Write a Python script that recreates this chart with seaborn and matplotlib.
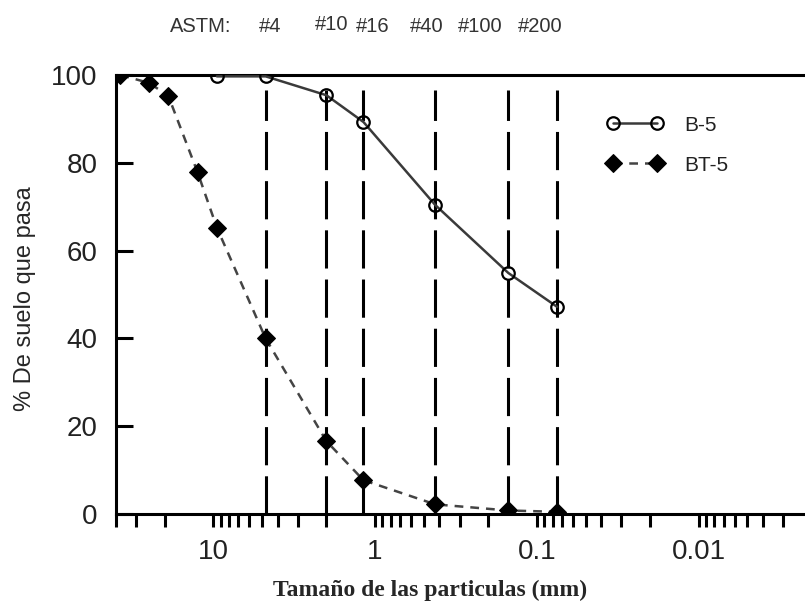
import matplotlib
matplotlib.use("Agg")
import matplotlib.pyplot as plt
import seaborn as sns
import pandas as pd

# Sieve sizes (mm) and percent passing
size_bt5 = [37.5, 25.0, 19.0, 12.5, 9.5, 4.75, 2.0, 1.18, 0.425, 0.15, 0.075]
pass_bt5 = [100, 98.2, 95.3, 77.8, 65.2, 40.0, 16.6, 7.7, 2.2, 0.8, 0.5]

size_b5 = [9.5, 4.75, 2.0, 1.18, 0.425, 0.15, 0.075]
pass_b5 = [99.7, 99.7, 95.4, 89.3, 70.4, 54.9, 47.2]

# ASTM sieve openings (mm) and their names
astm_sizes = [4.75, 2.0, 1.18, 0.425, 0.15, 0.075]
astm_names = ["#4", "#10", "#16", "#40", "#100", "#200"]

df_bt5 = pd.DataFrame({"size": size_bt5, "pasa": pass_bt5})
df_b5 = pd.DataFrame({"size": size_b5, "pasa": pass_b5})

sns.set_theme(style="white")
plt.rcParams["font.family"] = ["Liberation Sans", "DejaVu Sans"]

fig = plt.figure(figsize=(8.05, 6.08), dpi=100)
ax = fig.add_axes([0.144, 0.1546, 0.856, 0.722])

# vertical dashed lines at ASTM sieves
ax.vlines(astm_sizes, 0, 96.5, colors="black", linewidth=2.2,
          linestyles=(0, (12.5, 3.6)), zorder=1)

sns.lineplot(data=df_b5, x="size", y="pasa", ax=ax, sort=False,
             color="#3a3a3a", linewidth=1.8, marker="o", markersize=9,
             markerfacecolor="none", markeredgecolor="black",
             markeredgewidth=1.6, label="B-5", zorder=3)
sns.lineplot(data=df_bt5, x="size", y="pasa", ax=ax, sort=False,
             color="#444444", linewidth=1.8, marker="D",
             markersize=9.5, markerfacecolor="black", markeredgecolor="black",
             label="BT-5", zorder=3)
ax.lines[-1].set_linestyle((0, (3.5, 2.8)))

ax.set_xscale("log")
ax.set_xlim(40, 0.0022)
ax.set_ylim(0, 100)
ax.set_yticks([0, 20, 40, 60, 80, 100])
ax.set_yticks(range(0, 101, 5), minor=True)
ax.set_xticks([10, 1, 0.1, 0.01])
ax.set_xticklabels(["10", "1", "0.1", "0.01"])

for side in ["left", "bottom", "top"]:
    ax.spines[side].set_linewidth(2.2)
    ax.spines[side].set_color("black")
ax.spines["right"].set_visible(False)

ax.tick_params(axis="y", which="major", direction="in", length=12, width=2.2,
               labelsize=20, pad=13, colors="black", labelcolor="#222222")
ax.tick_params(axis="y", which="minor", direction="in", length=9, width=2.2,
               colors="black")
ax.tick_params(axis="x", which="major", direction="out", length=9, width=2.2,
               labelsize=20, pad=9, colors="black", labelcolor="#222222")
ax.tick_params(axis="x", which="minor", direction="out", length=9, width=2.2,
               colors="black", bottom=True)
ax.tick_params(left=True, bottom=True, top=False, right=False)

ax.set_xlabel("Tamaño de las particulas (mm)", fontsize=17,
              family=["Liberation Serif", "DejaVu Serif"], fontweight="bold",
              va="center")
ax.xaxis.set_label_coords(0.456, -0.173)
ax.set_ylabel("% De suelo que pasa", fontsize=17, va="center")
ax.yaxis.set_label_coords(-0.132, 0.49)

leg = ax.legend(loc="upper left", bbox_to_anchor=(0.685, 0.95), frameon=False,
                fontsize=15, numpoints=2, handlelength=2.7, handletextpad=1.0,
                labelspacing=1.0)
for t in leg.get_texts():
    t.set_color("#222222")

# ASTM labels above the plot
fig.text(170 / 805, 1 - 27 / 608, "ASTM:", fontsize=14.5, color="#333333",
         va="center", ha="left")
label_x = [270, 332, 373, 427, 480, 540]
label_dy = [0, 3, 0, 0, 0, 0]
for name, px, dy in zip(astm_names, label_x, label_dy):
    fig.text(px / 805, 1 - (27 - dy) / 608, name, fontsize=14.5,
             color="#333333", va="center", ha="center")

fig.savefig("out.png", dpi=100)
